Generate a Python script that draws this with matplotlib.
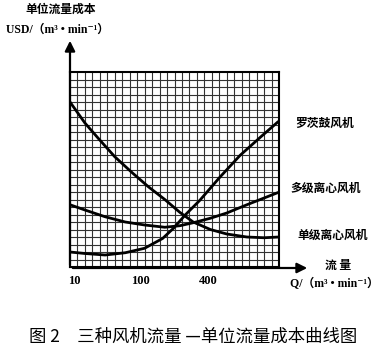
import matplotlib
matplotlib.use("Agg")
import matplotlib.pyplot as plt
import numpy as np

plt.rcParams['font.family'] = ['Noto Sans CJK SC', 'DejaVu Sans']

# curve values, in grid cells (x: 0..28, y: 0..26)
dan_x = [0, 2.0, 3.75, 6.0, 8.3, 10.5, 12.7, 14.7, 16.5, 18.8, 21.0, 23.7, 26.0, 28.0]
dan_y = [22.0, 19.2, 17.2, 14.7, 12.6, 10.7, 9.0, 7.3, 6.0, 5.0, 4.4, 4.0, 3.9, 4.0]

luo_x = [0, 2.0, 4.7, 7.4, 10.0, 12.4, 13.9, 15.4, 17.4, 20.1, 22.8, 25.5, 27.8]
luo_y = [2.0, 1.8, 1.6, 1.9, 2.5, 3.8, 5.2, 6.9, 8.9, 12.0, 14.9, 17.3, 19.3]

duo_x = [0, 2.0, 4.7, 7.4, 10.0, 12.7, 14.7, 16.5, 18.8, 21.0, 23.7, 27.8]
duo_y = [8.3, 7.6, 6.7, 6.0, 5.6, 5.3, 5.5, 5.9, 6.5, 7.2, 8.3, 9.9]

x_ticks = [0.6, 9.5, 18.5]
x_ticklabels = ['10', '100', '400']

names = ['罗茨鼓风机', '多级离心风机', '单级离心风机']

serif = ['Liberation Serif', 'DejaVu Serif', 'Noto Sans CJK SC']

fig = plt.figure(figsize=(3.8, 3.54), dpi=100)
ax = fig.add_axes([70/380, 1-267/354, 209/380, 195/354])
ax.set_xlim(0, 28)
ax.set_ylim(0, 26)
for i in range(1, 28):
    ax.axvline(i, color='#333333', lw=0.8, zorder=1)
for j in range(1, 26):
    ax.axhline(j, color='#333333', lw=0.8, zorder=1)
for s in ax.spines.values():
    s.set_linewidth(1.5)
ax.set_xticks([])
ax.set_yticks([])

ax.plot(dan_x, dan_y, color='black', lw=2.0, zorder=3)
ax.plot(luo_x, luo_y, color='black', lw=2.0, zorder=3)
ax.plot(duo_x, duo_y, color='black', lw=2.0, zorder=3)

# axes arrows
fig.patches.append(matplotlib.patches.FancyArrowPatch(
    (70/380, 1-268/354), (310/380, 1-268/354), transform=fig.transFigure,
    arrowstyle='-|>,head_length=6,head_width=3', color='black', lw=1.6))
fig.patches.append(matplotlib.patches.FancyArrowPatch(
    (70/380, 1-268/354), (70/380, 1-38/354), transform=fig.transFigure,
    arrowstyle='-|>,head_length=6,head_width=3', color='black', lw=1.6))

for xt, lab in zip(x_ticks, x_ticklabels):
    ax.text(xt, -1.9, lab, ha='center', va='center', fontsize=9,
            fontweight='bold', family=serif)

# curve names
fig.text(325/380, 1-123/354, names[0], ha='center', va='center', fontsize=8.5, fontweight='bold')
fig.text(326/380, 1-188/354, names[1], ha='center', va='center', fontsize=8.5, fontweight='bold')
fig.text(333/380, 1-235/354, names[2], ha='center', va='center', fontsize=8.5, fontweight='bold')

# axis titles
fig.text(61/380, 1-9/354, '单位流量成本', ha='center', va='center', fontsize=8.5, fontweight='bold')
fig.text(57/380, 1-30/354, 'USD/（m³ • min⁻¹）', ha='center', va='center', fontsize=8.5,
         fontweight='bold', family=serif)
fig.text(338/380, 1-265/354, '流 量', ha='center', va='center', fontsize=8.5, fontweight='bold')
fig.text(334/380, 1-284/354, 'Q/（m³ • min⁻¹）', ha='center', va='center', fontsize=8.5,
         fontweight='bold', family=serif)

fig.text(193/380, 1-337/354, '图 2　三种风机流量 —单位流量成本曲线图', ha='center', va='center',
         fontsize=12.5)

fig.savefig('out.png', dpi=100, facecolor='white')
